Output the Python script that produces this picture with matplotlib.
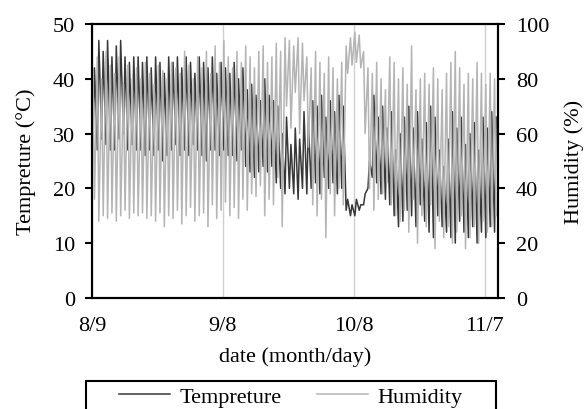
import numpy as np
import matplotlib
matplotlib.use("Agg")
import matplotlib.pyplot as plt
from matplotlib.patches import Rectangle

plt.rcParams["font.family"] = ["Liberation Serif", "DejaVu Serif"]
plt.rcParams["font.size"] = 16

# daily extremes, day 0 = 8/9
temp_max = [42, 47, 45, 47, 44, 46, 47, 44, 43, 44,
            44, 43, 44, 42, 44, 43, 41, 44, 43, 44,
            42, 44, 43, 41, 44, 43, 42, 44, 41, 43,
            42, 41, 43, 40, 42, 38, 39, 37, 36, 40,
            37, 36, 35, 30, 33, 28, 31, 29, 34, 32,
            36, 35, 37, 33, 36, 34, 37, 35, 18, 17,
            18, 17, 19, 25, 37, 33, 35, 31, 34, 27,
            30, 33, 35, 31, 34, 29, 32, 35, 33, 27,
            24, 29, 34, 31, 33, 28, 30, 32, 27, 33,
            31, 34, 33]
temp_min = [28, 27, 29, 28, 27, 27, 29, 30, 27, 28,
            27, 27, 26, 27, 26, 27, 25, 26, 27, 28,
            26, 27, 26, 28, 27, 26, 25, 27, 27, 26,
            27, 26, 26, 25, 27, 24, 23, 22, 23, 24,
            23, 24, 21, 20, 19, 20, 19, 18, 20, 19,
            20, 21, 19, 22, 20, 21, 19, 20, 16, 15,
            15, 16, 17, 20, 22, 21, 19, 18, 17, 15,
            13, 14, 16, 15, 13, 17, 14, 12, 11, 15,
            13, 12, 11, 10, 14, 12, 11, 13, 10, 12,
            11, 13, 12]
hum_max = [82, 88, 80, 90, 85, 82, 88, 78, 85, 80,
           84, 80, 86, 82, 78, 85, 83, 80, 86, 84,
           82, 90, 85, 80, 88, 84, 90, 82, 92, 86,
           94, 88, 84, 90, 86, 92, 88, 84, 90, 92,
           86, 88, 93, 90, 95, 94, 92, 95, 93, 88,
           84, 90, 86, 82, 88, 84, 80, 86, 92, 95,
           97, 96, 90, 84, 82, 86, 80, 76, 88, 86,
           80, 84, 78, 92, 76, 80, 82, 78, 84, 80,
           76, 82, 86, 90, 84, 78, 82, 80, 86, 82,
           78, 82, 80]
hum_min = [36, 28, 30, 29, 31, 28, 30, 32, 29, 31,
           30, 31, 29, 30, 28, 31, 26, 30, 29, 32,
           27, 30, 33, 28, 30, 31, 26, 34, 29, 32,
           35, 30, 33, 29, 36, 32, 38, 37, 41, 30,
           36, 34, 44, 26, 70, 62, 75, 60, 72, 55,
           34, 30, 36, 22, 38, 30, 40, 34, 82, 85,
           86, 84, 60, 40, 32, 36, 38, 42, 34, 30,
           28, 32, 24, 36, 20, 30, 26, 34, 18, 28,
           22, 26, 20, 24, 30, 18, 22, 26, 20, 28,
           24, 26, 30]

tick_days = [0, 30, 60, 90]
tick_labels = ["8/9", "9/8", "10/8", "11/7"]

# morning / afternoon samples for each day
days = np.arange(len(temp_max))
t = np.column_stack([days + 0.25, days + 0.6]).ravel()
temp = np.column_stack([temp_min, temp_max]).ravel()
hum = np.column_stack([hum_max, hum_min]).ravel()

c_temp = "#383838"
c_hum = "#b4b4b4"

fig = plt.figure(figsize=(5.85, 4.1), dpi=100)
ax = fig.add_axes([0.157, 0.271, 0.694, 0.668])
ax2 = ax.twinx()

l1, = ax.plot(t, temp, color=c_temp, linewidth=1.1, label="Tempreture")
l2, = ax2.plot(t, hum, color=c_hum, linewidth=1.1, label="Humidity")

ax.set_xlim(0, 93)
ax.set_ylim(0, 50)
ax2.set_ylim(0, 100)
ax.set_xticks(tick_days)
ax.set_xticklabels(tick_labels)
ax.set_yticks(range(0, 51, 10))
ax2.set_yticks(range(0, 101, 20))

ax.grid(axis="x", color="#d0d0d0", linewidth=1.0)
ax.set_axisbelow(True)

for a in (ax, ax2):
    for s in a.spines.values():
        s.set_linewidth(1.5)
        s.set_color("black")
ax.tick_params(axis="x", length=0, pad=13)
ax.tick_params(axis="y", direction="out", length=5, width=1.5, pad=7)
ax2.tick_params(axis="y", direction="out", length=5, width=1.5, pad=8)

ax.set_xlabel("date (month/day)", labelpad=8)
ax.set_ylabel("Tempreture (°C)", labelpad=12)
ax2.set_ylabel("Humidity (%)", labelpad=11)

fig.legend(handles=[l1, l2], loc="upper left", bbox_to_anchor=(0.204, 0.055),
           ncol=2, frameon=False, handlelength=2.3, handletextpad=0.4,
           columnspacing=1.6, borderpad=0, borderaxespad=0)
fig.patches.append(Rectangle((86 / 585, -0.1), 410 / 585, 0.1 + 28 / 410,
                             transform=fig.transFigure, fill=False,
                             edgecolor="black", linewidth=1.5))

fig.savefig("out.png", dpi=100)
